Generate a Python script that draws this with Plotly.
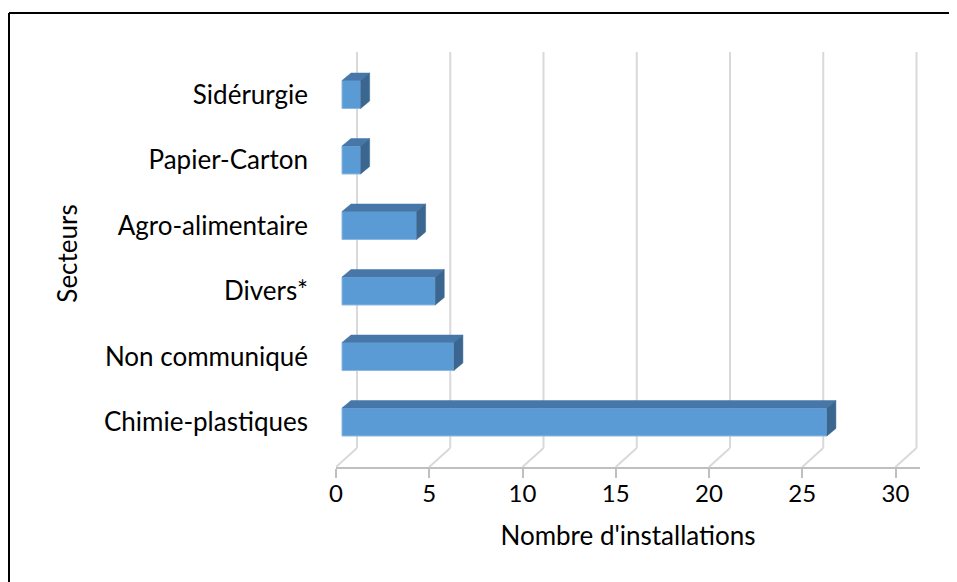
import plotly.graph_objects as go

# ---- data ----
categories = ["Chimie-plastiques", "Non communiqué", "Divers*", "Agro-alimentaire", "Papier-Carton", "Sidérurgie"]
values = [26, 6, 5, 4, 1, 1]
x_ticks = [0, 5, 10, 15, 20, 25, 30]
x_title = "Nombre d'installations"
y_title = "Secteurs"

# ---- geometry (pixels -> data units); page has an 8px body offset ----
OFF = 8
W, H = 957, 582
L, R = 336 - OFF, 920 - OFF
T, B = 40 - OFF, 467 - OFF
xpx = 18.65
ypx = 65.5
y0_px = 422 - OFF
xmax = (R - L) / xpx
ymin = (y0_px - B) / ypx
ymax = (y0_px - T) / ypx
wdx, wdy = 21 / xpx, 19 / ypx          # back-wall depth offset
wall_top = (y0_px - (52 - OFF)) / ypx
bbase = 6 / xpx                         # bar front-face start
bdx, bdy = 9 / xpx, 7.5 / ypx           # bar depth offset
hh = 14 / ypx                           # bar half height

FONT = "Lato"
LBL = 26
fig = go.Figure()

# back-wall gridlines and floor diagonals
gx, gy, dx_, dy_ = [], [], [], []
for t in x_ticks:
    gx += [t + wdx, t + wdx, None]
    gy += [ymin + wdy, wall_top, None]
    dx_ += [t, t + wdx, None]
    dy_ += [ymin, ymin + wdy, None]
fig.add_trace(go.Scatter(x=gx, y=gy, mode="lines", line=dict(color="#d9d9d9", width=2),
                         hoverinfo="skip", showlegend=False))
fig.add_trace(go.Scatter(x=dx_, y=dy_, mode="lines", line=dict(color="#d9d9d9", width=2),
                         hoverinfo="skip", showlegend=False))

# 3D-looking bars
for i, v in enumerate(values):
    x0, x1 = bbase, bbase + v
    ylo, yhi = i - hh, i + hh
    # front
    fig.add_trace(go.Scatter(x=[x0, x1, x1, x0, x0], y=[ylo, ylo, yhi, yhi, ylo],
                             fill="toself", fillcolor="#5b9bd5", mode="lines",
                             line=dict(color="#8db8e2", width=1), hoverinfo="skip", showlegend=False))
    # top
    fig.add_trace(go.Scatter(x=[x0, x1, x1 + bdx, x0 + bdx, x0],
                             y=[yhi, yhi, yhi + bdy, yhi + bdy, yhi],
                             fill="toself", fillcolor="#4677a8", mode="lines",
                             line=dict(color="#4677a8", width=0.5), hoverinfo="skip", showlegend=False))
    # side
    fig.add_trace(go.Scatter(x=[x1, x1 + bdx, x1 + bdx, x1, x1],
                             y=[ylo, ylo + bdy, yhi + bdy, yhi, ylo],
                             fill="toself", fillcolor="#3a6690", mode="lines",
                             line=dict(color="#3a6690", width=0.5), hoverinfo="skip", showlegend=False))

bx = (9 - OFF - L) / (R - L)
by = (B - (13 - OFF)) / (B - T)
fig.update_layout(
    width=W, height=H,
    margin=dict(l=L, r=W - R, t=T, b=H - B, pad=0),
    paper_bgcolor="white", plot_bgcolor="white",
    font=dict(family=FONT, size=LBL, color="#000000"),
    showlegend=False,
    xaxis=dict(range=[0, xmax], tickvals=x_ticks, ticktext=[str(t) for t in x_ticks],
               showgrid=False, zeroline=False, showline=True, linecolor="#bfbfbf", linewidth=2,
               ticks="outside", ticklen=9, tickcolor="#bfbfbf", tickwidth=2,
               ticklabelstandoff=-5,
               tickfont=dict(family=FONT, size=24),
               title=dict(text=x_title, standoff=21, font=dict(family=FONT, size=LBL))),
    yaxis=dict(range=[ymin, ymax], tickvals=list(range(len(categories))), ticktext=categories,
               showgrid=False, zeroline=False, showline=False, ticks="",
               ticklabelstandoff=27,
               tickfont=dict(family=FONT, size=LBL),
               title=dict(text=y_title, standoff=18, font=dict(family=FONT, size=LBL))),
    shapes=[
        dict(type="line", xref="paper", yref="paper",
             x0=bx, x1=(W + 5 - L) / (R - L), y0=by, y1=by,
             line=dict(color="#000000", width=2)),
        dict(type="line", xref="paper", yref="paper",
             x0=bx, x1=bx, y0=by, y1=(B - H - 5) / (B - T),
             line=dict(color="#000000", width=2)),
    ],
)

fig.write_html("out.html")
